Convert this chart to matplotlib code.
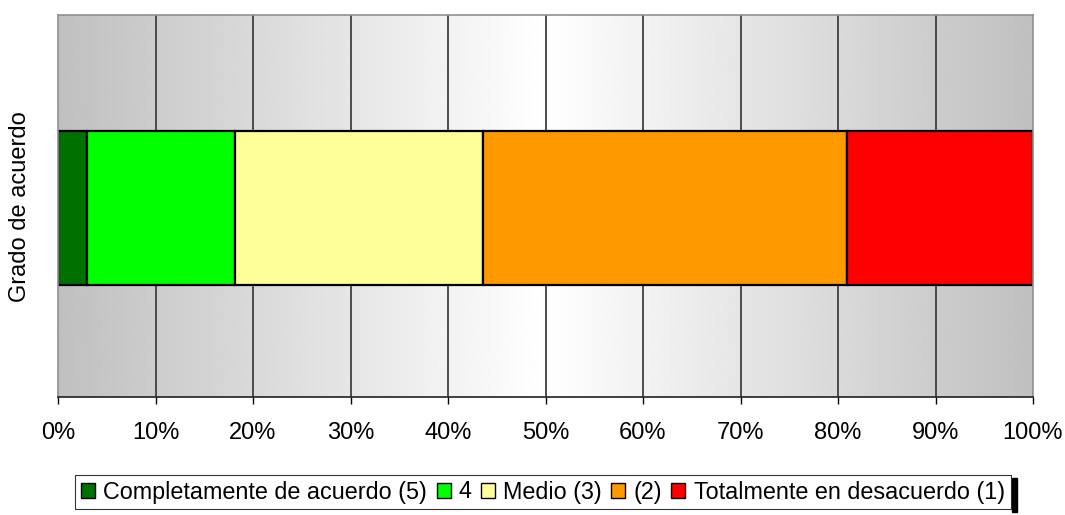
import matplotlib
matplotlib.use("Agg")
import matplotlib.pyplot as plt
import numpy as np
from matplotlib.patches import Rectangle

plt.rcParams['font.family'] = ['Liberation Sans', 'DejaVu Sans']

categories = ["Grado de acuerdo"]
series_names = ["Completamente de acuerdo (5)", "4", "Medio (3)", "(2)", "Totalmente en desacuerdo (1)"]
series_values = [3.0, 15.2, 25.4, 37.3, 19.1]
series_colors = ["#007000", "#00FF00", "#FFFF99", "#FF9900", "#FF0000"]
xtick_values = [0, 10, 20, 30, 40, 50, 60, 70, 80, 90, 100]
xtick_labels = [f"{v}%" for v in xtick_values]

FS = 17

fig = plt.figure(figsize=(10.65, 5.15), dpi=100)
ax = fig.add_axes([58/1065, 1-397/515, (1033-58)/1065, (397-15)/515])

# gradient background
xs = np.linspace(0, 1, 512)
vals = 192/255 + (1 - 192/255) * (1 - np.abs(xs - 0.5) * 2)
img = np.tile(vals, (2, 1))
ax.imshow(img, cmap='gray', vmin=0, vmax=1, extent=[0, 100, -0.5, 0.5],
          aspect='auto', zorder=0, interpolation='bilinear')

for xv in xtick_values[1:-1]:
    ax.axvline(xv, color='#404040', lw=1.3, zorder=1)

left = 0
for name, val, col in zip(series_names, series_values, series_colors):
    ax.barh(-0.005, val, left=left, height=0.403, color=col, edgecolor='black',
            linewidth=1.6, label=name, zorder=2)
    left += val

ax.set_xlim(0, 100)
ax.set_ylim(-0.5, 0.5)
ax.set_yticks([])
ax.set_xticks(xtick_values)
ax.set_xticklabels(xtick_labels, fontsize=FS)
ax.tick_params(axis='x', length=5, width=1, pad=13, color='black')
fig.text(20/1065, 1-207/515, categories[0], fontsize=FS, rotation=90,
         ha='center', va='center')

for side in ['top', 'left', 'right']:
    ax.spines[side].set_color('#909090')
    ax.spines[side].set_linewidth(1.2)
ax.spines['bottom'].set_color('#202020')
ax.spines['bottom'].set_linewidth(1.2)

leg = fig.legend(loc='center', bbox_to_anchor=(543/1065, 1-492/515), ncol=5,
                 fontsize=16.8, frameon=True, fancybox=False, edgecolor='black',
                 handlelength=0.6, handleheight=0.6, handletextpad=0.35,
                 columnspacing=0.4, borderpad=0.25, borderaxespad=0)
leg.get_frame().set_linewidth(0.8)
for h in leg.legend_handles:
    h.set_linewidth(1.0)

fig.canvas.draw()
bb = leg.get_window_extent()
fig.patches.append(Rectangle(((bb.x1+1)/1065, (bb.y0-3)/515), 5/1065, (bb.height)/515,
                             transform=fig.transFigure, color='black', zorder=0))

fig.savefig("out.png", dpi=100)
